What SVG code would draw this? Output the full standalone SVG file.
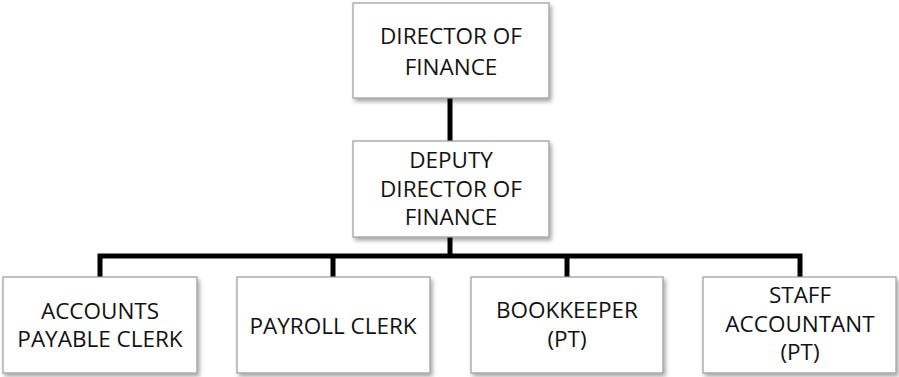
<svg xmlns="http://www.w3.org/2000/svg" width="899" height="377" viewBox="0 0 899 377">
<defs>
<filter id="sh" x="-10%" y="-10%" width="130%" height="130%">
<feGaussianBlur in="SourceAlpha" stdDeviation="2"/>
<feOffset dx="2" dy="3" result="b"/>
<feComponentTransfer><feFuncA type="linear" slope="0.35"/></feComponentTransfer>
<feMerge><feMergeNode/><feMergeNode in="SourceGraphic"/></feMerge>
</filter>
<style>
.box{fill:#fff;stroke:#9a9a9a;stroke-width:1.2;filter:url(#sh)}
.t{font-family:"Open Sans","Liberation Sans",sans-serif;font-size:22.5px;fill:#111;text-anchor:middle}
.c{fill:none;stroke:#000;stroke-width:5;stroke-linejoin:miter}
</style>
</defs>
<rect width="899" height="377" fill="#fff"/>
<g id="connectors">
<path class="c" d="M450,98V141"/>
<path class="c" d="M450,237V256"/>
<path class="c" d="M100,277V256H800V277"/>
<path class="c" d="M333,256V277"/>
<path class="c" d="M567,256V277"/>
</g>
<g id="director">
<rect class="box" x="353" y="3" width="196" height="95"/>
<text class="t" x="451" y="44">DIRECTOR OF</text>
<text class="t" x="451" y="75">FINANCE</text>
</g>
<g id="deputy">
<rect class="box" x="353" y="141" width="196" height="96"/>
<text class="t" x="451" y="168">DEPUTY</text>
<text class="t" x="451" y="197">DIRECTOR OF</text>
<text class="t" x="451" y="225">FINANCE</text>
</g>
<g id="ap-clerk">
<rect class="box" x="3" y="277" width="194" height="96"/>
<text class="t" x="100" y="319">ACCOUNTS</text>
<text class="t" x="100" y="347">PAYABLE CLERK</text>
</g>
<g id="payroll">
<rect class="box" x="237" y="277" width="193" height="96"/>
<text class="t" x="333" y="334">PAYROLL CLERK</text>
</g>
<g id="bookkeeper">
<rect class="box" x="471" y="277" width="192" height="96"/>
<text class="t" x="567" y="318">BOOKKEEPER</text>
<text class="t" x="567" y="347">(PT)</text>
</g>
<g id="staff-accountant">
<rect class="box" x="703" y="277" width="193" height="96"/>
<text class="t" x="800" y="303">STAFF</text>
<text class="t" x="800" y="332">ACCOUNTANT</text>
<text class="t" x="800" y="360">(PT)</text>
</g>
</svg>
